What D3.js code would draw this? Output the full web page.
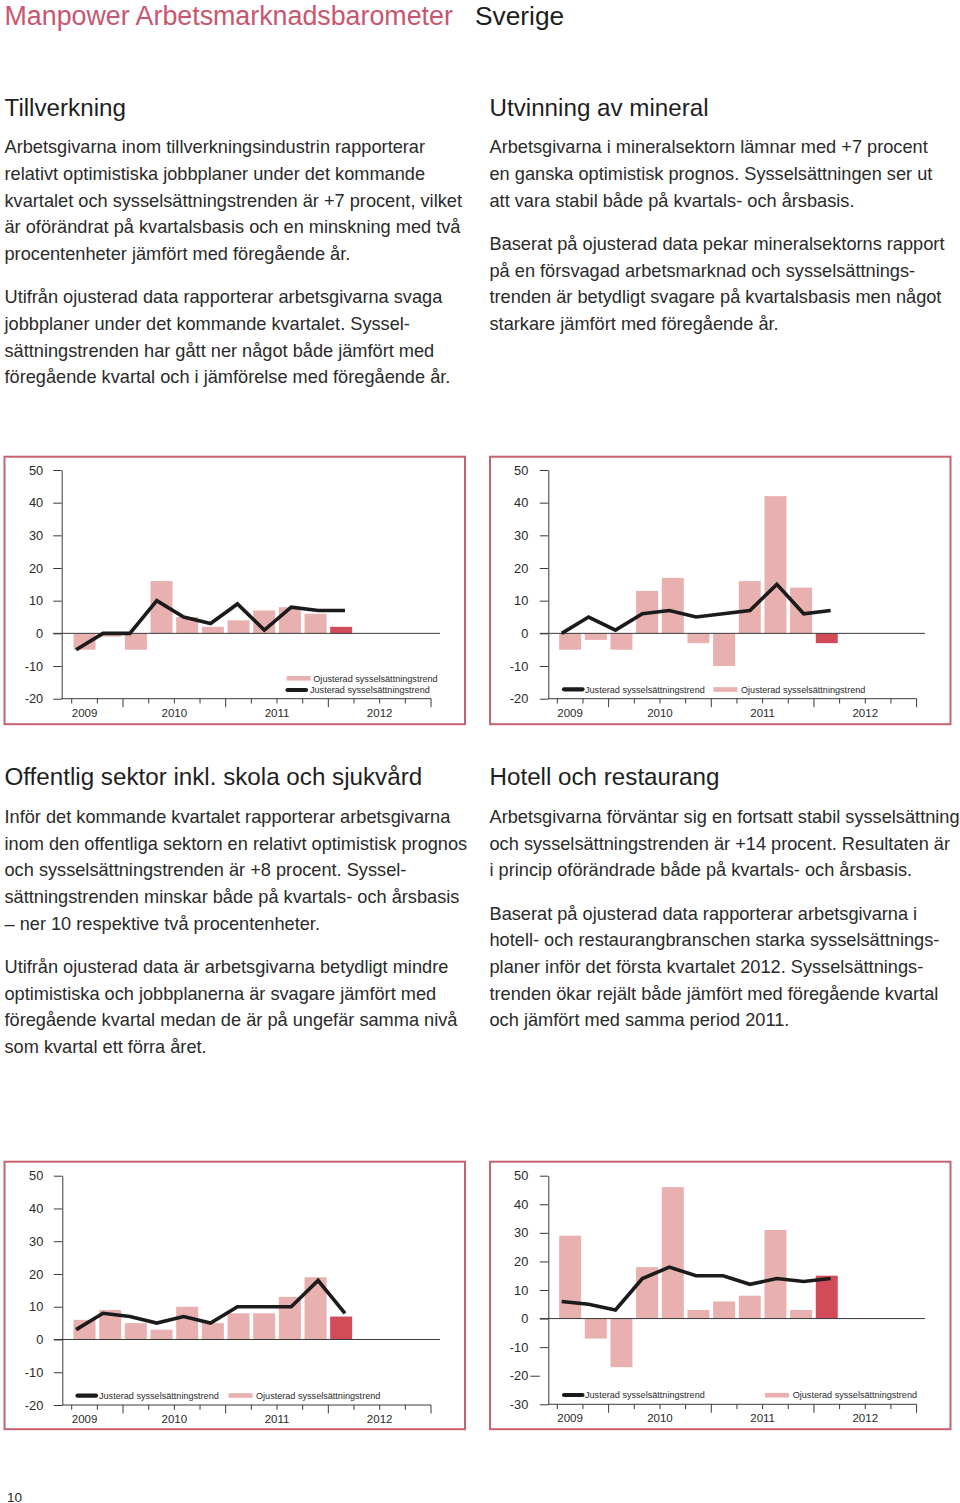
<!DOCTYPE html>
<html><head><meta charset="utf-8">
<script src="https://cdn.jsdelivr.net/npm/d3@7"></script>
<style>
html,body{margin:0;padding:0;background:#fff;}
svg{display:block;}
text{font-family:"Liberation Sans",Arial,Helvetica,sans-serif;}
</style></head><body>
<svg id="page" width="960" height="1503"></svg>
<script>
// ---------- DATA ----------
const quarters = ["2009 Q3","2009 Q4","2010 Q1","2010 Q2","2010 Q3","2010 Q4","2011 Q1","2011 Q2","2011 Q3","2011 Q4","2012 Q1"];
const yearLabels = ["2009","2010","2011","2012"];
const yearCenters = [0.5, 4, 8, 12];          // in quarter-boundary units
const quarterBoundaries = d3.range(15);

const tillverkningBars = [-5, -1, -5, 16, 5, 2, 4, 7, 8, 6, 2];
const tillverkningLine = [-5, 0, 0, 10, 5, 3, 9, 1, 8, 7, 7];

const mineralBars = [-5, -2, -5, 13, 17, -3, -10, 16, 42, 14, -3];
const mineralLine = [0, 5, 1, 6, 7, 5, 6, 7, 15, 6, 7];

const offentligBars = [6, 9, 5, 3, 10, 5, 8, 8, 13, 19, 7];
const offentligLine = [3, 8, 7, 5, 7, 5, 10, 10, 10, 18, 8];

const hotellBars = [29, -7, -17, 18, 46, 3, 6, 8, 31, 3, 15];
const hotellLine = [6, 5, 3, 14, 18, 15, 15, 12, 14, 13, 14];

const ticksA = [-20, -10, 0, 10, 20, 30, 40, 50];
const ticksB = [-30, -20, -10, 0, 10, 20, 30, 40, 50];

const legendJust = "Justerad sysselsättningstrend";
const legendOjust = "Ojusterad sysselsättningstrend";

const titleMain = "Manpower Arbetsmarknadsbarometer";
const titleSub = "Sverige";

const headTL = "Tillverkning";
const textTL = [["Arbetsgivarna inom tillverkningsindustrin rapporterar",
  "relativt optimistiska jobbplaner under det kommande",
  "kvartalet och sysselsättningstrenden är +7 procent, vilket",
  "är oförändrat på kvartalsbasis och en minskning med två",
  "procentenheter jämfört med föregående år."],
 ["Utifrån ojusterad data rapporterar arbetsgivarna svaga",
  "jobbplaner under det kommande kvartalet. Syssel-",
  "sättningstrenden har gått ner något både jämfört med",
  "föregående kvartal och i jämförelse med föregående år."]];
const headTR = "Utvinning av mineral";
const textTR = [["Arbetsgivarna i mineralsektorn lämnar med +7 procent",
  "en ganska optimistisk prognos. Sysselsättningen ser ut",
  "att vara stabil både på kvartals- och årsbasis."],
 ["Baserat på ojusterad data pekar mineralsektorns rapport",
  "på en försvagad arbetsmarknad och sysselsättnings-",
  "trenden är betydligt svagare på kvartalsbasis men något",
  "starkare jämfört med föregående år."]];
const headBL = "Offentlig sektor inkl. skola och sjukvård";
const textBL = [["Inför det kommande kvartalet rapporterar arbetsgivarna",
  "inom den offentliga sektorn en relativt optimistisk prognos",
  "och sysselsättningstrenden är +8 procent. Syssel-",
  "sättningstrenden minskar både på kvartals- och årsbasis",
  "– ner 10 respektive två procentenheter."],
 ["Utifrån ojusterad data är arbetsgivarna betydligt mindre",
  "optimistiska och jobbplanerna är svagare jämfört med",
  "föregående kvartal medan de är på ungefär samma nivå",
  "som kvartal ett förra året."]];
const headBR = "Hotell och restaurang";
const textBR = [["Arbetsgivarna förväntar sig en fortsatt stabil sysselsättning",
  "och sysselsättningstrenden är +14 procent. Resultaten är",
  "i princip oförändrade både på kvartals- och årsbasis."],
 ["Baserat på ojusterad data rapporterar arbetsgivarna i",
  "hotell- och restaurangbranschen starka sysselsättnings-",
  "planer inför det första kvartalet 2012. Sysselsättnings-",
  "trenden ökar rejält både jämfört med föregående kvartal",
  "och jämfört med samma period 2011."]];
const pageNumber = "10";

// ---------- STYLE ----------
const C = {
  title: "#c8566e", frame: "#c9616f", bar: "#e9b0b0", barLast: "#d24b58",
  line: "#1b1b1b", axis: "#3a3a3a", text: "#2a2a2a", head: "#1e1e1e"
};
const svg = d3.select("#page");
svg.append("rect").attr("width", 960).attr("height", 1503).attr("fill", "#fff");

// ---------- TEXT ----------
svg.append("text").attr("x", 4.5).attr("y", 24.5).attr("font-size", 26.8)
  .attr("fill", C.title).text(titleMain);
svg.append("text").attr("x", 475).attr("y", 24.5).attr("font-size", 26.3)
  .attr("fill", C.head).text(titleSub);

function block(x, headY, head, paras, firstY) {
  svg.append("text").attr("x", x).attr("y", headY).attr("font-size", 24.2)
    .attr("fill", C.head).text(head);
  let y = firstY;
  paras.forEach((p, pi) => {
    if (pi > 0) y += 16.67;
    p.forEach(line => {
      svg.append("text").attr("x", x).attr("y", y).attr("font-size", 18.2)
        .attr("fill", C.text).text(line);
      y += 26.67;
    });
  });
}
block(4.5, 116, headTL, textTL, 153.3);
block(489.5, 116, headTR, textTR, 153.3);
block(4.5, 784.5, headBL, textBL, 823);
block(489.5, 784.5, headBR, textBR, 823);

svg.append("text").attr("x", 7).attr("y", 1501.5).attr("font-size", 13.5)
  .attr("fill", C.text).text(pageNumber);

// ---------- CHARTS ----------
function chart(cfg, bars, lineVals) {
  const g = svg.append("g");
  g.append("rect").attr("x", cfg.left).attr("y", cfg.top)
    .attr("width", 460.5).attr("height", 267.5)
    .attr("fill", "none").attr("stroke", C.frame).attr("stroke-width", 2);

  const y = d3.scaleLinear().domain(cfg.domain).range([cfg.yBottom, cfg.yTop]);
  const xq = d3.scaleLinear().domain([0, 14]).range([cfg.firstTick, cfg.firstTick + 359.3]);
  const xl = d3.scaleLinear().domain([0, lineVals.length - 1])
    .range([cfg.firstTick + 4.4, cfg.firstTick + 273.3]);

  // bars
  g.selectAll("rect.bar").data(bars).enter().append("rect")
    .attr("class", "bar")
    .attr("x", (d, i) => xq(i + 0.5) - 11)
    .attr("width", 22)
    .attr("y", d => Math.min(y(d), y(0)))
    .attr("height", d => Math.abs(y(d) - y(0)))
    .attr("fill", (d, i) => i === bars.length - 1 ? C.barLast : C.bar);

  // y axis
  const ax = g.append("g").attr("transform", `translate(${cfg.axisX},0)`)
    .call(d3.axisLeft(y).tickValues(cfg.ticks).tickSize(8.5).tickSizeOuter(0)
      .tickPadding(cfg.labelPad).tickFormat(d => String(d)));
  ax.select(".domain").attr("stroke", C.axis).attr("stroke-width", 1);
  ax.selectAll(".tick line").attr("stroke", C.axis).attr("stroke-width", 1);
  ax.selectAll(".tick text").attr("font-size", 12.8).attr("fill", C.text)
    .attr("font-family", '"Liberation Sans",Arial,sans-serif');
  if (cfg.shiftedTick !== undefined) {
    ax.selectAll(".tick").filter(d => d === cfg.shiftedTick).select("line")
      .attr("x1", -8.5).attr("x2", -18);
  }

  // zero line
  g.append("line").attr("x1", cfg.axisX - 8.5).attr("x2", cfg.zeroEnd)
    .attr("y1", y(0)).attr("y2", y(0)).attr("stroke", C.axis).attr("stroke-width", 1);

  // bottom axis
  g.append("line").attr("x1", cfg.axisX).attr("x2", xq(14))
    .attr("y1", cfg.yBottom).attr("y2", cfg.yBottom)
    .attr("stroke", C.axis).attr("stroke-width", 1);
  g.selectAll("line.qt").data(quarterBoundaries).enter().append("line")
    .attr("class", "qt")
    .attr("x1", d => xq(d)).attr("x2", d => xq(d))
    .attr("y1", cfg.yBottom)
    .attr("y2", d => cfg.yBottom + (d % 4 === 2 ? 8.5 : 4.8))
    .attr("stroke", C.axis).attr("stroke-width", 1);
  g.selectAll("text.yr").data(yearLabels).enter().append("text")
    .attr("class", "yr")
    .attr("x", (d, i) => xq(yearCenters[i])).attr("y", cfg.yBottom + 18)
    .attr("text-anchor", "middle").attr("font-size", 11.5).attr("fill", C.text)
    .text(d => d);

  // line
  g.append("path").datum(lineVals)
    .attr("d", d3.line().x((d, i) => xl(i)).y(d => y(d)))
    .attr("fill", "none").attr("stroke", C.line).attr("stroke-width", 3.6)
    .attr("stroke-linejoin", "miter");

  // legend
  const L = cfg.legend;
  g.append("line").attr("x1", L.jx).attr("x2", L.jx + 18.5)
    .attr("y1", L.jy).attr("y2", L.jy)
    .attr("stroke", C.line).attr("stroke-width", 4.2).attr("stroke-linecap", "round");
  g.append("text").attr("x", L.jtx).attr("y", L.jy + 3.2).attr("font-size", 9.1)
    .attr("fill", C.text).text(legendJust);
  g.append("rect").attr("x", L.ox).attr("y", L.oy - 2.3).attr("width", 24).attr("height", 4.6)
    .attr("fill", C.bar);
  g.append("text").attr("x", L.otx).attr("y", L.oy + 3.2).attr("font-size", 9.1)
    .attr("fill", C.text).text(legendOjust);
}

chart({left: 4.5, top: 456.7, axisX: 61.7, yTop: 470, yBottom: 698.7, domain: [-20, 50], ticks: ticksA,
  firstTick: 71.7, zeroEnd: 440, labelPad: 10,
  legend: {jx: 287.5, jy: 690, jtx: 310, ox: 286.7, oy: 678.3, otx: 313.3}},
  tillverkningBars, tillverkningLine);

chart({left: 490, top: 456.7, axisX: 548.3, yTop: 470, yBottom: 698.7, domain: [-20, 50], ticks: ticksA,
  firstTick: 557.3, zeroEnd: 925, labelPad: 11.5,
  legend: {jx: 564, jy: 689.3, jtx: 585, ox: 713.3, oy: 689.5, otx: 741}},
  mineralBars, mineralLine);

chart({left: 4.5, top: 1161.7, axisX: 62.3, yTop: 1175.7, yBottom: 1405, domain: [-20, 50], ticks: ticksA,
  firstTick: 71.7, zeroEnd: 440, labelPad: 10.5,
  legend: {jx: 77.5, jy: 1395.7, jtx: 99, ox: 228.5, oy: 1395.5, otx: 256}},
  offentligBars, offentligLine);

chart({left: 490, top: 1161.7, axisX: 548.3, yTop: 1175.7, yBottom: 1404.3, domain: [-30, 50], ticks: ticksB,
  firstTick: 557.3, zeroEnd: 925, labelPad: 11.5, shiftedTick: -20,
  legend: {jx: 564, jy: 1395, jtx: 585, ox: 765, oy: 1395.2, otx: 792.7}},
  hotellBars, hotellLine);
</script>
</body></html>
